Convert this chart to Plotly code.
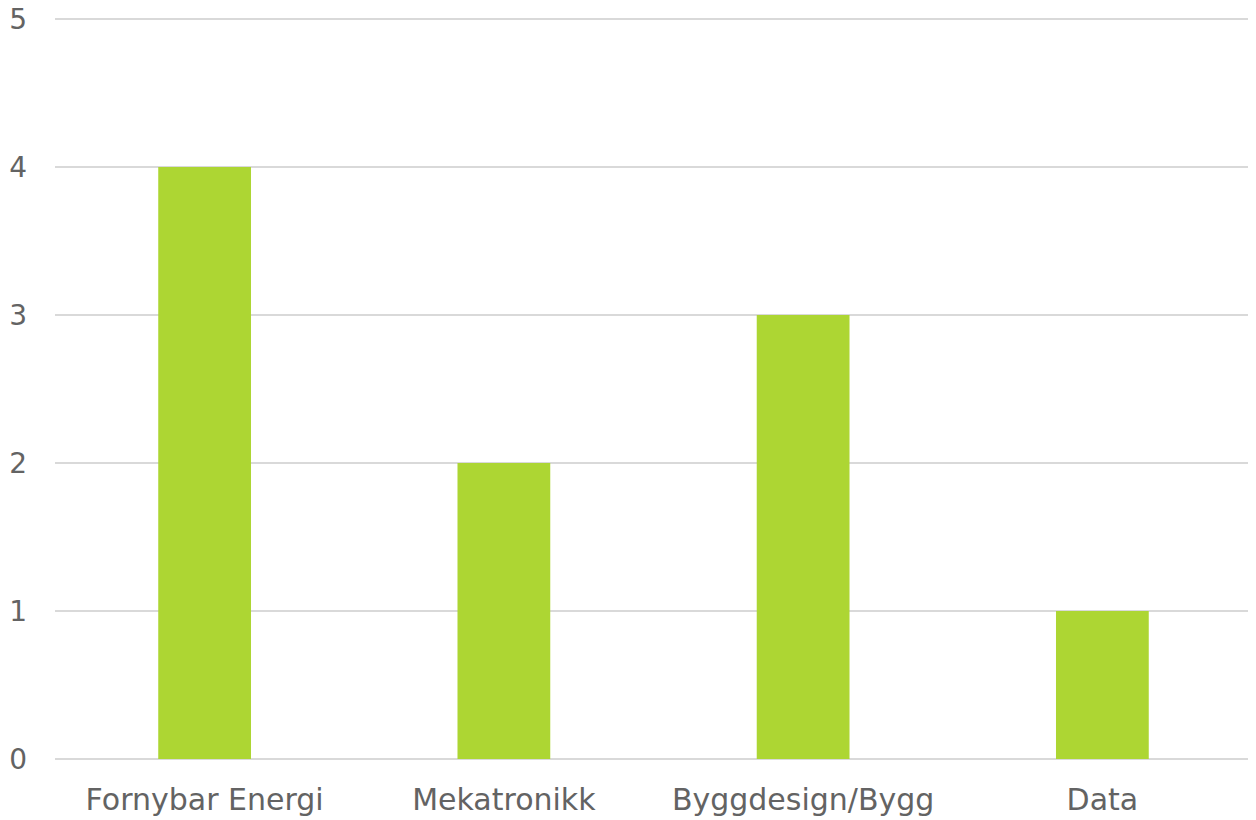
import plotly.graph_objects as go

categories = ["Fornybar Energi", "Mekatronikk", "Byggdesign/Bygg", "Data"]
values = [4, 2, 3, 1]
y_ticks = [0, 1, 2, 3, 4, 5]

fig = go.Figure(go.Bar(x=categories, y=values, marker=dict(color="#ADD633", line=dict(width=0))))

fig.update_layout(
    width=1256, height=820,
    margin=dict(l=47, r=12, t=8, b=69, autoexpand=False),
    paper_bgcolor="white", plot_bgcolor="white",
    bargap=0.69,
    showlegend=False,
    font=dict(family="DejaVu Sans", color="#636363", size=28),
)
fig.update_xaxes(showgrid=False, showline=False, ticks="", tickfont=dict(size=30), ticklabelstandoff=20)
fig.update_yaxes(range=[0, 5.02], tickvals=y_ticks, showgrid=True, gridcolor="#D9D9D9", gridwidth=2,
                 zeroline=True, zerolinecolor="#D9D9D9", zerolinewidth=2, ticks="",
                 tickfont=dict(size=28), ticklabelstandoff=27, ticklabeloverflow="allow")
fig.write_html("out.html")
